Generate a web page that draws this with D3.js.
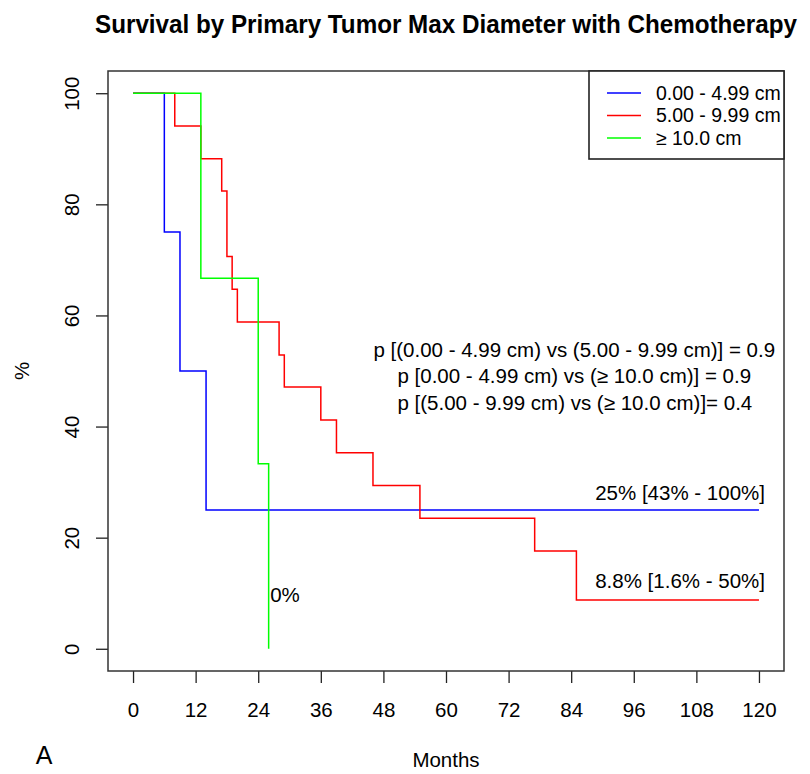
<!DOCTYPE html>
<html>
<head>
<meta charset="utf-8">
<script src="https://cdn.jsdelivr.net/npm/d3@7"></script>
<style>
html,body{margin:0;padding:0;background:#fff;}
svg text{font-family:"Liberation Sans",Arial,sans-serif;fill:#000;}
</style>
</head>
<body>
<svg id="chart" width="810" height="774"></svg>
<script>
// ---- data ----
const groups = ["0.00 - 4.99 cm", "5.00 - 9.99 cm", "\u2265 10.0 cm"];
const colors = ["#0000ff", "#ff0000", "#00ff00"];
const blueTimes  = [0, 6, 9, 14, 120];
const blueSurv   = [100, 75, 50, 25, 25];
const redTimes   = [0, 8, 13, 17, 18, 19, 20, 28, 29, 36, 39, 46, 55, 77, 85, 120];
const redSurv    = [100, 94.1, 88.2, 82.4, 70.6, 64.7, 58.8, 52.9, 47.1, 41.2, 35.3, 29.4, 23.5, 17.6, 8.8, 8.8];
const greenTimes = [0, 13, 24, 26];
const greenSurv  = [100, 66.7, 33.3, 0];
const xTicks = [0, 12, 24, 36, 48, 60, 72, 84, 96, 108, 120];
const yTicks = [0, 20, 40, 60, 80, 100];
const pLabels = [
  "p [(0.00 - 4.99 cm) vs (5.00 - 9.99 cm)] = 0.9",
  "p [0.00 - 4.99 cm) vs (\u2265 10.0 cm)] = 0.9",
  "p [(5.00 - 9.99 cm) vs (\u2265 10.0 cm)]= 0.4"
];
const endLabels = ["25% [43% - 100%]", "8.8% [1.6% - 50%]", "0%"];

// ---- layout ----
const svg = d3.select("#chart");
const L = 108, R = 784, T = 71, B = 671;
const x = d3.scaleLinear().domain([-4.8, 124.8]).range([L, R]);
const y = d3.scaleLinear().domain([-4, 104]).range([B, T]);
const FS = 20.5;

// title (condensed horizontally to the reference's width)
const title = svg.append("text").attr("x", 0).attr("y", 0).attr("dy", "0.35em")
  .attr("text-anchor", "middle").attr("font-weight", "bold").attr("font-size", 25)
  .text("Survival by Primary Tumor Max Diameter with Chemotherapy");
const tw = title.node().getComputedTextLength();
const sx = Math.min(1, 702 / tw);
title.attr("transform", `translate(${(L + R) / 2},24) scale(${sx},1)`);

// axes
const xAxis = d3.axisBottom(x).tickValues(xTicks).tickSize(12).tickPadding(20).tickSizeOuter(0);
const gx = svg.append("g").attr("transform", `translate(0,${B})`).call(xAxis);
gx.select(".domain").remove();
gx.selectAll("line").attr("stroke", "#222").attr("stroke-width", 1.3);
gx.selectAll("text").attr("font-size", FS).attr("font-family", "Liberation Sans, Arial, sans-serif").attr("fill", "#000").attr("dy", "0.35em").attr("y", 39);

const yAxis = d3.axisLeft(y).tickValues(yTicks).tickSize(12).tickSizeOuter(0);
const gy = svg.append("g").attr("transform", `translate(${L},0)`).call(yAxis);
gy.select(".domain").remove();
gy.selectAll("line").attr("stroke", "#222").attr("stroke-width", 1.3);
gy.selectAll("text").attr("font-size", FS).attr("font-family", "Liberation Sans, Arial, sans-serif").attr("fill", "#000")
  .attr("text-anchor", "middle")
  .attr("transform", "rotate(-90)")
  .attr("x", 0).attr("y", 72 - L).attr("dy", "0.35em");

// box
svg.append("rect").attr("x", L).attr("y", T).attr("width", R - L).attr("height", B - T)
  .attr("fill", "none").attr("stroke", "#333").attr("stroke-width", 1.5);

// axis labels
svg.append("text").attr("x", (L + R) / 2).attr("y", 760).attr("dy", "0.35em")
  .attr("text-anchor", "middle").attr("font-size", FS).text("Months");
svg.append("text").attr("transform", `translate(22,${(T + B) / 2}) rotate(-90)`).attr("dy", "0.35em")
  .attr("text-anchor", "middle").attr("font-size", FS).text("%");
svg.append("text").attr("x", 44).attr("y", 755).attr("dy", "0.35em")
  .attr("text-anchor", "middle").attr("font-size", 25).text("A");

// curves
const series = [
  blueTimes.map((t, i) => [t, blueSurv[i]]),
  redTimes.map((t, i) => [t, redSurv[i]]),
  greenTimes.map((t, i) => [t, greenSurv[i]])
];
const line = d3.line().x(d => x(d[0])).y(d => y(d[1])).curve(d3.curveStepAfter);
series.forEach((s, i) => {
  svg.append("path").attr("d", line(s)).attr("fill", "none")
    .attr("stroke", colors[i]).attr("stroke-width", 1.5);
});

// p-value annotations
const pPos = [[46.1, 53.9], [50.7, 49.2], [50.7, 44.2]];
pLabels.forEach((t, i) => {
  svg.append("text").attr("x", x(pPos[i][0])).attr("y", y(pPos[i][1])).attr("dy", "0.35em")
    .attr("font-size", FS).text(t);
});

// end labels
const ePos = [[88.6, 28.1], [88.6, 12.2], [26.3, 9.7]];
endLabels.forEach((t, i) => {
  svg.append("text").attr("x", x(ePos[i][0])).attr("y", y(ePos[i][1])).attr("dy", "0.35em")
    .attr("font-size", FS).text(t);
});

// legend
const lg = svg.append("g");
lg.append("rect").attr("x", 589).attr("y", T).attr("width", R - 589).attr("height", 159 - T)
  .attr("fill", "#fff").attr("stroke", "#222").attr("stroke-width", 1.6);
groups.forEach((g, i) => {
  const yy = 93 + i * 22.5;
  lg.append("line").attr("x1", 607).attr("x2", 641).attr("y1", yy).attr("y2", yy)
    .attr("stroke", colors[i]).attr("stroke-width", 1.5);
  lg.append("text").attr("x", 656).attr("y", yy).attr("dy", "0.35em").attr("font-size", FS - 1).text(g);
});
</script>
</body>
</html>
